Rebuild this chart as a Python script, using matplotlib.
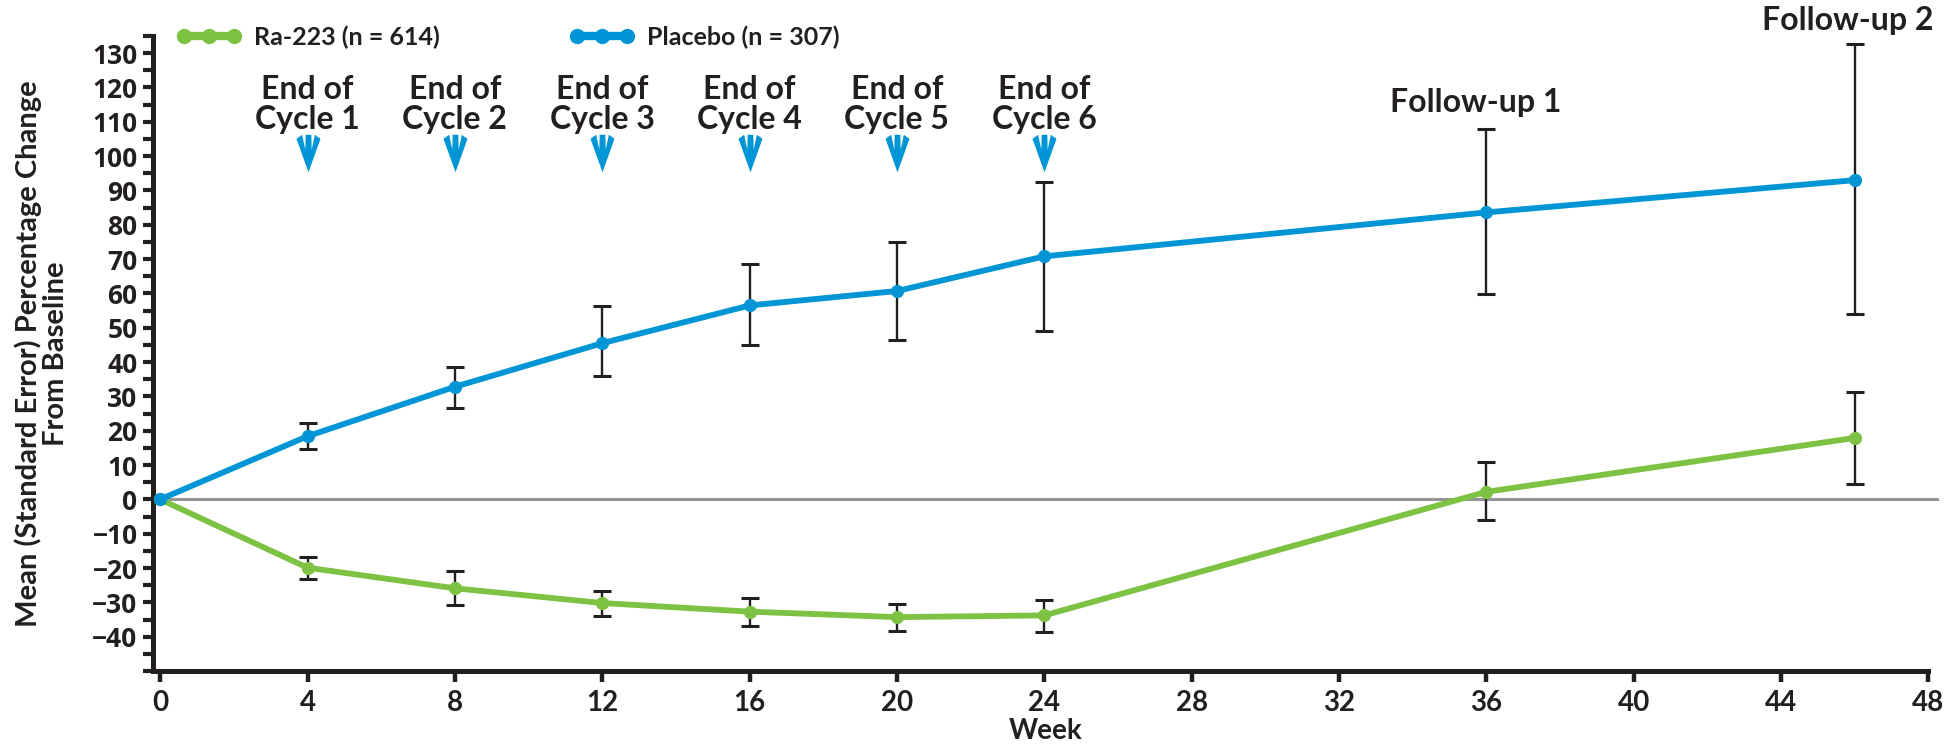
import numpy as np
import matplotlib.pyplot as plt
from matplotlib.path import Path
from matplotlib.ticker import MultipleLocator

# values
weeks = [0, 4, 8, 12, 16, 20, 24, 36, 46]
ra223_mean = [0, -19.9, -25.9, -30.2, -32.7, -34.3, -33.8, 2.2, 17.9]
ra223_lo = [-23.1, -30.9, -34.0, -36.8, -38.3, -38.5, -6.0, 4.4]
ra223_hi = [-16.9, -20.8, -26.8, -28.6, -30.4, -29.3, 10.8, 31.3]
placebo_mean = [0, 18.4, 32.8, 45.5, 56.5, 60.7, 70.8, 83.6, 93.0]
placebo_lo = [14.8, 26.7, 36.0, 44.9, 46.4, 49.2, 59.7, 53.9]
placebo_hi = [22.3, 38.6, 56.2, 68.5, 74.9, 92.6, 107.8, 132.6]

cycle_weeks = [4, 8, 12, 16, 20, 24]
cycle_labels = ['End of\nCycle 1', 'End of\nCycle 2', 'End of\nCycle 3',
                'End of\nCycle 4', 'End of\nCycle 5', 'End of\nCycle 6']
followup_weeks = [36, 46]
followup_labels = ['Follow-up 1', 'Follow-up 2']

x_ticks = list(range(0, 49, 4))
y_ticks = list(range(-40, 131, 10))

GREEN = '#7dc242'
BLUE = '#0096d6'
INK = '#231f20'
NARROW = ['Lato', 'DejaVu Sans']
WIDE = ['Open Sans', 'DejaVu Sans']

fig = plt.figure(figsize=(19.59, 7.45), dpi=100)
ax = fig.add_axes([0.078, 0.0993, 0.912, 0.8524])

ax.axhline(0, color='#939598', lw=2.2, zorder=1)

# error bars (no bar at baseline)
for mean, lo, hi in [(ra223_mean, ra223_lo, ra223_hi), (placebo_mean, placebo_lo, placebo_hi)]:
    m = np.array(mean[1:])
    yerr = [m - np.array(lo), np.array(hi) - m]
    ax.errorbar(weeks[1:], m, yerr=yerr, fmt='none', ecolor=INK,
                elinewidth=1.7, capsize=6.5, capthick=2.2, zorder=2)

ax.plot(weeks, ra223_mean, color=GREEN, lw=4.2, marker='o', ms=8.5,
        label='Ra-223 (n = 614)', zorder=3)
ax.plot(weeks, placebo_mean, color=BLUE, lw=4.2, marker='o', ms=8.5,
        label='Placebo (n = 307)', zorder=4)

# blue down arrows marking end of each cycle
arrow = Path([(0, -1), (0.64, 0.78), (0.34, 1.0), (0.17, 0.2), (0.15, 1.0),
              (-0.15, 1.0), (-0.17, 0.2), (-0.34, 1.0), (-0.64, 0.78), (0, -1)],
             closed=True)
ax.plot(cycle_weeks, [101.0] * len(cycle_weeks), ls='none', marker=arrow,
        ms=27, color=BLUE, mew=0, clip_on=False, zorder=5)
for wk, lab in zip(cycle_weeks, cycle_labels):
    ax.text(wk, 115.0, lab, ha='center', va='center', fontsize=23,
            fontweight='bold', family=NARROW, color=INK, linespacing=1.02)

ax.text(followup_weeks[0] - 0.3, 115.5, followup_labels[0], ha='center', va='center',
        fontsize=23, fontweight='bold', family=NARROW, color=INK)
ax.text(followup_weeks[1] - 0.2, 139.5, followup_labels[1], ha='center', va='center',
        fontsize=23, fontweight='bold', family=NARROW, color=INK, clip_on=False)

ax.set_xlim(-0.2, 48.3)
ax.set_ylim(-50, 135)
ax.spines['top'].set_visible(False)
ax.spines['right'].set_visible(False)
for s in ['left', 'bottom']:
    ax.spines[s].set_linewidth(3.6)
    ax.spines[s].set_color(INK)
ax.spines['bottom'].set_bounds(-0.2, 48)

ax.set_xticks(x_ticks)
ax.set_yticks(y_ticks)
ax.yaxis.set_minor_locator(MultipleLocator(5))
ax.set_yticklabels([str(v).replace('-', '\u2212') for v in y_ticks])
ax.tick_params(axis='y', which='both', length=7, width=3, color=INK, pad=4)
ax.tick_params(axis='x', length=8, width=3.2, color=INK, pad=6)
for lab in ax.get_yticklabels():
    lab.set_fontfamily(WIDE)
    lab.set_fontweight('bold')
    lab.set_fontsize(19)
    lab.set_color(INK)
for lab in ax.get_xticklabels():
    lab.set_fontfamily(NARROW)
    lab.set_fontweight('bold')
    lab.set_fontsize(20)
    lab.set_color(INK)

ax.set_xlabel('Week', fontsize=20, fontweight='bold', family=NARROW, color=INK, labelpad=1)
ax.set_ylabel('Mean (Standard Error) Percentage Change\nFrom Baseline', fontsize=21,
              fontweight='bold', family=NARROW, color=INK,
              labelpad=17, linespacing=1.05)

leg = ax.legend(loc='center left', bbox_to_anchor=(0.013, 0.998), ncol=2, frameon=False,
                numpoints=3, handlelength=2.6, handletextpad=0.5, columnspacing=5.2,
                borderpad=0, borderaxespad=0,
                prop={'family': NARROW, 'weight': 'bold', 'size': 18})
for h in leg.legend_handles:
    h.set_linewidth(6)
    h.set_markersize(10)
for t in leg.get_texts():
    t.set_color(INK)

fig.savefig('out.png', dpi=100)
